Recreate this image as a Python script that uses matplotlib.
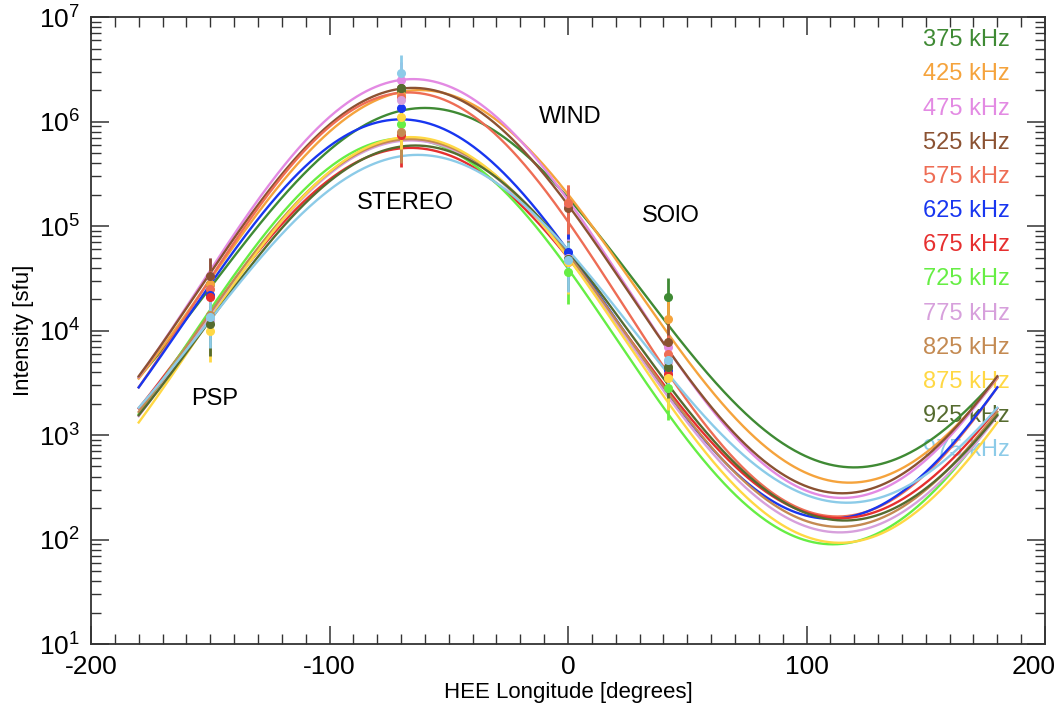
import numpy as np
import matplotlib
matplotlib.use('Agg')
import matplotlib.pyplot as plt
from matplotlib.ticker import MultipleLocator, LogLocator, NullFormatter, FuncFormatter

plt.rcParams['font.family'] = ['Liberation Sans', 'DejaVu Sans']
plt.rcParams['mathtext.fontset'] = 'custom'
plt.rcParams['mathtext.rm'] = 'Liberation Sans'
plt.rcParams['mathtext.it'] = 'Liberation Sans'
plt.rcParams['axes.unicode_minus'] = False

# ~ DATA ~
freqs = ['375 kHz', '425 kHz', '475 kHz', '525 kHz', '575 kHz', '625 kHz', '675 kHz',
         '725 kHz', '775 kHz', '825 kHz', '875 kHz', '925 kHz', '975 kHz']
colors = ['#3f8a34', '#f5a33c', '#e38ae3', '#8b5232', '#ee6d55', '#1836f0', '#e62f2f',
          '#66ee44', '#d7a0dc', '#c48a52', '#ffd844', '#556b2f', '#8ccbe8']

# spacecraft longitudes (HEE, degrees)
craft_names = ['PSP', 'STEREO', 'WIND', 'SOlO']
craft_lon = [-150, -70, 0, 42]

# measured peak intensities [sfu] per spacecraft, one value per frequency
psp_int = [2.8e4, 2.8e4, 3.3e4, 3.3e4, 2.5e4, 2.2e4, 2.1e4, 1.25e4, 1.25e4, 1.4e4, 1.0e4, 1.15e4, 1.35e4]
stereo_int = [2.0e6, 1.8e6, 2.5e6, 2.1e6, 1.7e6, 1.35e6, 7.4e5, 9.5e5, 1.6e6, 8.0e5, 1.1e6, 2.1e6, 2.9e6]
wind_int = [1.6e5, 1.65e5, 1.6e5, 1.5e5, 1.65e5, 5.6e4, 4.5e4, 3.6e4, 5.0e4, 4.8e4, 4.5e4, 4.8e4, 4.7e4]
solo_int = [2.1e4, 1.3e4, 7.0e3, 7.8e3, 6.0e3, 4.2e3, 3.8e3, 2.8e3, 5.0e3, 4.5e3, 3.5e3, 4.5e3, 5.2e3]
rel_err = 0.5

# fitted directivity curves: peak / minimum intensity and longitude of peak
fit_peak = [1.35e6, 2.0e6, 2.55e6, 2.1e6, 1.9e6, 1.05e6, 5.6e5, 6.9e5, 6.6e5, 6.8e5, 7.1e5, 5.9e5, 4.8e5]
fit_min = [490, 350, 250, 277, 166, 158, 160, 90, 117, 132, 93, 152, 225]
fit_lon0 = [-60, -62, -65, -65, -67, -70, -66, -69, -66, -66, -66, -64, -63]

# where the spacecraft names are written (longitude, intensity)
label_lon = [-148, -68, 1, 43]
label_int = [2.2e3, 1.65e5, 1.1e6, 1.25e5]

fig = plt.figure(figsize=(10.63, 7.12), dpi=100)
ax = fig.add_axes([0.0856, 0.0955, 0.8975, 0.8805])

lon = np.linspace(-180, 180, 721)
for i in range(len(freqs)):
    c = (np.log10(fit_peak[i]) + np.log10(fit_min[i])) / 2
    a = (np.log10(fit_peak[i]) - np.log10(fit_min[i])) / 2
    model = 10 ** (c + a * np.cos(np.radians(lon - fit_lon0[i])))
    ax.plot(lon, model, color=colors[i], lw=1.7, zorder=3)

all_int = [psp_int, stereo_int, wind_int, solo_int]
for i in range(len(freqs)):
    vals = np.array([s[i] for s in all_int])
    ax.errorbar(craft_lon, vals, yerr=rel_err * vals, fmt='o', color=colors[i],
                ms=5.5, elinewidth=2, capsize=0, zorder=4)

for name, x, y in zip(craft_names, label_lon, label_int):
    ax.text(x, y, name, fontsize=17, ha='center', va='center', color='black')

for i, f in enumerate(freqs):
    ax.text(0.963, 0.963 - i * 0.0545, f, transform=ax.transAxes, color=colors[i],
            fontsize=17, ha='right', va='center', zorder=1)

ax.set_yscale('log')
ax.set_xlim(-200, 200)
ax.set_ylim(10, 1e7)
ax.xaxis.set_major_locator(MultipleLocator(100))
ax.xaxis.set_minor_locator(MultipleLocator(10))
# the right-most label is drawn separately so it can sit just inside the figure
ax.xaxis.set_major_formatter(FuncFormatter(lambda v, p: '' if v >= 200 else '%d' % v))
ax.annotate('200', xy=(200, 0), xycoords=('data', 'axes fraction'), xytext=(-8, -8),
            textcoords='offset points', ha='center', va='top', fontsize=19)
ax.set_yticks([10 ** k for k in range(1, 8)])
ax.set_yticklabels([r'$\mathregular{10^{%d}}$' % k for k in range(1, 8)])
ax.yaxis.set_minor_locator(LogLocator(base=10, subs=np.arange(2, 10), numticks=20))
ax.yaxis.set_minor_formatter(NullFormatter())
ax.tick_params(which='both', direction='in', top=True, right=True, color='#333333')
ax.tick_params(which='major', length=13, width=1.1, labelsize=19, pad=8)
ax.tick_params(which='minor', length=7, width=1.0)
for sp in ax.spines.values():
    sp.set_color('#333333')
    sp.set_linewidth(1.3)

ax.set_xlabel('HEE Longitude [degrees]', fontsize=16, labelpad=2)
ax.set_ylabel('Intensity [sfu]', fontsize=16, labelpad=3)

fig.savefig('out.png', dpi=100)
